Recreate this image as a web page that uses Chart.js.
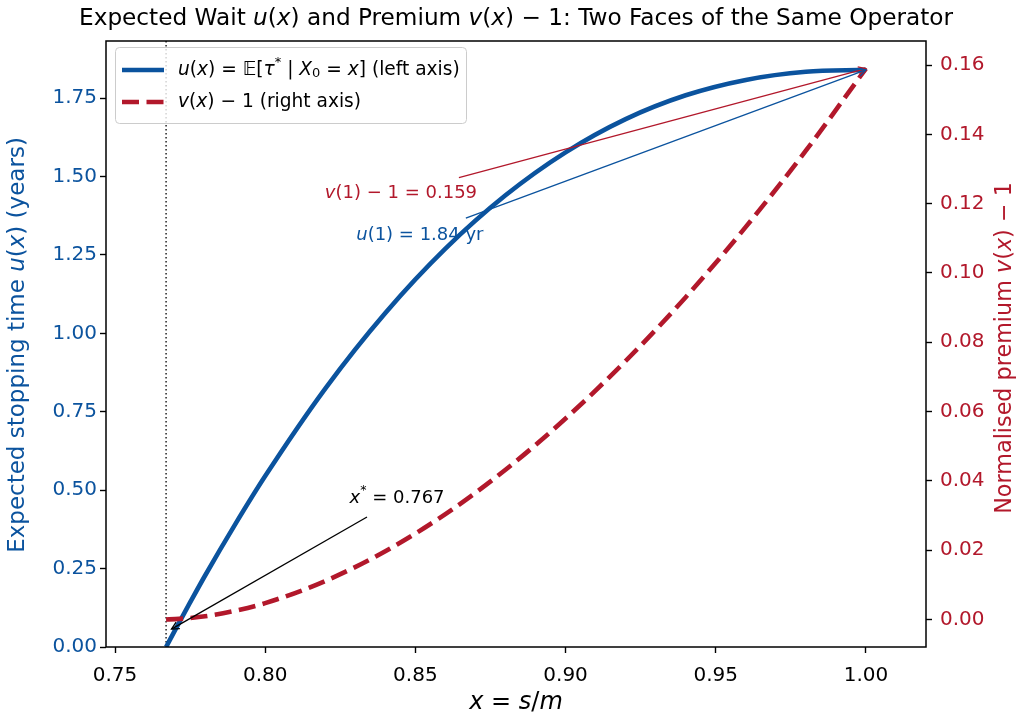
<!DOCTYPE html>
<html><head><meta charset="utf-8">
<script src="https://cdn.jsdelivr.net/npm/chart.js@4.4.1/dist/chart.umd.min.js"></script>
<style>html,body{margin:0;padding:0;background:#fff;} canvas{display:block;}</style>
</head><body>
<canvas id="c" width="1018" height="713"></canvas>
<script>
// ---------------- data ----------------
const xStar = 0.767;
const xValues = [0.767,0.770,0.775,0.780,0.790,0.800,0.820,0.840,0.860,0.880,0.900,0.920,0.940,0.960,0.980,1.000];
const uValues = [0.000,0.054,0.142,0.228,0.391,0.545,0.824,1.065,1.270,1.440,1.577,1.683,1.759,1.808,1.834,1.840];
const vValues = [0.0000,0.0001,0.0004,0.0009,0.0025,0.0047,0.0111,0.0197,0.0304,0.0432,0.0580,0.0746,0.0930,0.1133,0.1353,0.1590];
const xTicks = [0.75,0.80,0.85,0.90,0.95,1.00];
const uTicks = [0.00,0.25,0.50,0.75,1.00,1.25,1.50,1.75];
const vTicks = [0.00,0.02,0.04,0.06,0.08,0.10,0.12,0.14,0.16];

// ---------------- styles ----------------
const BLUE = '#0b539e';
const RED = '#b2182b';
const FAM = "'DejaVu Sans'";

function segFont(st, size){
  const small = (st === 'sup' || st === 'sub');
  const s = small ? size*0.7 : size;
  return (st === 'i' ? 'italic ' : '') + s + 'px ' + FAM;
}
function richWidth(ctx, segs, size){
  let w = 0;
  for (const [t, st] of segs){ ctx.font = segFont(st, size); w += ctx.measureText(t).width; }
  return w;
}
function drawRich(ctx, segs, x, y, size, color, align){
  ctx.save();
  ctx.fillStyle = color; ctx.textBaseline = 'middle'; ctx.textAlign = 'left';
  const w = richWidth(ctx, segs, size);
  let cx = align === 'center' ? x - w/2 : (align === 'right' ? x - w : x);
  for (const [t, st] of segs){
    ctx.font = segFont(st, size);
    let dy = 0;
    if (st === 'sup') dy = -size*0.38;
    if (st === 'sub') dy = size*0.22;
    ctx.fillText(t, cx, y + dy);
    cx += ctx.measureText(t).width;
  }
  ctx.restore();
}
function drawArrow(ctx, x1, y1, x2, y2, color, lw){
  ctx.save();
  ctx.strokeStyle = color; ctx.lineWidth = lw; ctx.lineCap = 'butt';
  ctx.beginPath(); ctx.moveTo(x1, y1); ctx.lineTo(x2, y2); ctx.stroke();
  const a = Math.atan2(y2 - y1, x2 - x1);
  const L = 7.5, W = 3.8;
  const bx = x2 - L*Math.cos(a), by = y2 - L*Math.sin(a);
  const px = -Math.sin(a)*W, py = Math.cos(a)*W;
  ctx.beginPath();
  ctx.moveTo(bx + px, by + py); ctx.lineTo(x2, y2); ctx.lineTo(bx - px, by - py);
  ctx.stroke();
  ctx.restore();
}

const titleSegs = [["Expected Wait ",'n'],["u",'i'],["(",'n'],["x",'i'],[") and Premium ",'n'],["v",'i'],["(",'n'],["x",'i'],[") − 1: Two Faces of the Same Operator",'n']];
const legendSegs1 = [["u",'i'],["(",'n'],["x",'i'],[") = 𝔼[",'n'],["τ",'i'],["*",'sup'],[" | ",'n'],["X",'i'],["0",'sub'],[" = ",'n'],["x",'i'],["] (left axis)",'n']];
const legendSegs2 = [["v",'i'],["(",'n'],["x",'i'],[") − 1 (right axis)",'n']];
const yLeftTitle = [["Expected stopping time ",'n'],["u",'i'],["(",'n'],["x",'i'],[") (years)",'n']];
const yRightTitle = [["Normalised premium ",'n'],["v",'i'],["(",'n'],["x",'i'],[") − 1",'n']];
const xTitle = [["x",'i'],[" = ",'n'],["s",'i'],["/",'n'],["m",'i']];

// annotations in data coordinates
const notes = [
  {segs:[["v",'i'],["(1) − 1 = 0.159",'n']], color:RED, axis:'yR', tx:0.8452, ty:0.1231, ax:0.8645, ay:0.1275, hx:1.0, hy:0.1590},
  {segs:[["u",'i'],["(1) = 1.84 yr",'n']], color:BLUE, axis:'yL', tx:0.8515, ty:1.313, ax:0.8668, ay:1.3675, hx:1.0, hy:1.840},
  {segs:[["x",'i'],["*",'sup'],[" = 0.767",'n']], color:'#000', axis:'yL', tx:0.8439, ty:0.475, ax:0.8339, ay:0.4144, hx:0.7688, hy:0.057}
];

const overlay = {
  id: 'overlay',
  beforeDatasetsDraw(chart){
    const ctx = chart.ctx, a = chart.chartArea, px = chart.scales.x.getPixelForValue(xStar);
    ctx.save();
    ctx.strokeStyle = '#000'; ctx.lineWidth = 1.3; ctx.setLineDash([1.5, 2.5]);
    ctx.beginPath(); ctx.moveTo(px, a.top); ctx.lineTo(px, a.bottom); ctx.stroke();
    ctx.restore();
  },
  afterDraw(chart){
    const ctx = chart.ctx, a = chart.chartArea, sx = chart.scales.x;
    // spines
    ctx.save(); ctx.strokeStyle = '#000'; ctx.lineWidth = 1.5;
    ctx.strokeRect(a.left, a.top, a.right - a.left, a.bottom - a.top);
    ctx.restore();
    // annotations
    for (const n of notes){
      const sy = chart.scales[n.axis];
      drawArrow(ctx, sx.getPixelForValue(n.ax), sy.getPixelForValue(n.ay), sx.getPixelForValue(n.hx), sy.getPixelForValue(n.hy), n.color, 1.3);
      drawRich(ctx, n.segs, sx.getPixelForValue(n.tx), sy.getPixelForValue(n.ty), 18, n.color, 'center');
    }
    // legend
    const lx = 115, ly = 47, lw = 351, lh = 76;
    ctx.save();
    ctx.fillStyle = 'rgba(255,255,255,0.8)'; ctx.strokeStyle = '#cccccc'; ctx.lineWidth = 1;
    ctx.beginPath(); ctx.roundRect(lx + 0.5, ly + 0.5, lw, lh, 4); ctx.fill(); ctx.stroke();
    ctx.lineWidth = 4.5; ctx.strokeStyle = BLUE;
    ctx.beginPath(); ctx.moveTo(122, 70); ctx.lineTo(164, 70); ctx.stroke();
    ctx.strokeStyle = RED; ctx.setLineDash([17, 7.5]);
    ctx.beginPath(); ctx.moveTo(122, 102); ctx.lineTo(164, 102); ctx.stroke();
    ctx.restore();
    drawRich(ctx, legendSegs1, 178, 70, 18.6, '#000', 'left');
    drawRich(ctx, legendSegs2, 178, 102, 18.6, '#000', 'left');
    // titles
    drawRich(ctx, titleSegs, (a.left + a.right)/2, 19, 23.2, '#000', 'center');
    drawRich(ctx, xTitle, (a.left + a.right)/2, 703, 24, '#000', 'center');
    ctx.save(); ctx.translate(18, 345); ctx.rotate(-Math.PI/2);
    drawRich(ctx, yLeftTitle, 0, 0, 23, BLUE, 'center'); ctx.restore();
    ctx.save(); ctx.translate(1005, 348); ctx.rotate(-Math.PI/2);
    drawRich(ctx, yRightTitle, 0, 0, 22.3, RED, 'center'); ctx.restore();
  }
};

const tickGrid = {display:true, drawOnChartArea:false, drawTicks:true, tickLength:6, tickWidth:1.4, tickColor:'#000', color:'#000'};
const tickFont = {family:'DejaVu Sans', size:20};

new Chart(document.getElementById('c'), {
  type: 'line',
  data: {
    datasets: [
      {label:'u', data: xValues.map((x,i)=>({x:x, y:uValues[i]})), yAxisID:'yL', borderColor:BLUE, borderWidth:4.6,
       pointRadius:0, cubicInterpolationMode:'monotone', fill:false, order:1},
      {label:'v', data: xValues.map((x,i)=>({x:x, y:vValues[i]})), yAxisID:'yR', borderColor:RED, borderWidth:4.6,
       borderDash:[17,7.5], pointRadius:0, cubicInterpolationMode:'monotone', fill:false, order:0}
    ]
  },
  options: {
    responsive:false, animation:false,
    layout:{padding:{top:41, left:0, right:0, bottom:0}},
    plugins:{legend:{display:false}, tooltip:{enabled:false}, title:{display:false}},
    scales:{
      x:{type:'linear', position:'bottom', min:0.747, max:1.02,
         afterBuildTicks:(s)=>{ s.ticks = xTicks.map(v=>({value:v})); },
         afterFit:(s)=>{ s.height = 66; },
         ticks:{callback:(v)=>Number(v).toFixed(2), font:tickFont, color:'#000', padding:11, maxRotation:0, autoSkip:false},
         grid:tickGrid, border:{display:false}},
      yL:{type:'linear', position:'left', min:0, max:1.932,
         afterBuildTicks:(s)=>{ s.ticks = uTicks.map(v=>({value:v})); },
         afterFit:(s)=>{ s.width = 106; },
         ticks:{callback:(v)=>Number(v).toFixed(2), font:tickFont, color:BLUE, padding:3, autoSkip:false},
         grid:tickGrid, border:{display:false}},
      yR:{type:'linear', position:'right', min:-0.00795, max:0.16695,
         afterBuildTicks:(s)=>{ s.ticks = vTicks.map(v=>({value:v})); },
         afterFit:(s)=>{ s.width = 92; },
         ticks:{callback:(v)=>Number(v).toFixed(2), font:tickFont, color:RED, padding:8, autoSkip:false},
         grid:tickGrid, border:{display:false}}
    }
  },
  plugins:[overlay]
});
</script>
</body></html>
